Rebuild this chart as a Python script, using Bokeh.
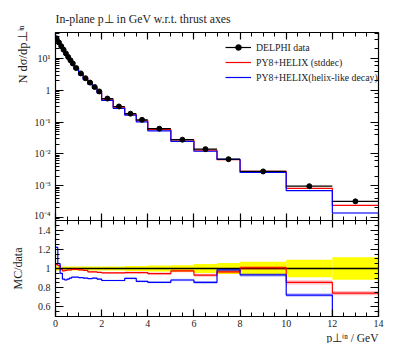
import numpy as np
from bokeh.plotting import figure
from bokeh.models import (ColumnDataSource, Range1d, LinearAxis, LogAxis, LogTicker,
                          SingleIntervalTicker, CustomJSTickFormatter, Legend, LegendItem, Title)
from bokeh.layouts import column
from bokeh.embed import file_html
from bokeh.resources import INLINE

# ---------------- data ----------------
bin_edges = [0.0, 0.1, 0.2, 0.3, 0.4, 0.5, 0.6, 0.7, 0.8, 1.0, 1.2, 1.4, 1.6, 1.8, 2.0,
             2.5, 3.0, 3.5, 4.0, 5.0, 6.0, 7.0, 8.0, 10.0, 12.0, 14.0]
delphi = [42.0, 32.0, 24.5, 19.0, 14.5, 11.2, 8.8, 7.0, 5.0, 3.4, 2.4, 1.75, 1.27, 0.92,
          0.55, 0.31, 0.184, 0.118, 0.062, 0.028, 0.0141, 0.0068, 0.0028, 0.00096, 0.00032]
delphi_relerr = [0.02, 0.02, 0.02, 0.02, 0.02, 0.02, 0.02, 0.02, 0.02, 0.02, 0.02, 0.02,
                 0.02, 0.02, 0.022, 0.022, 0.025, 0.025, 0.03, 0.035, 0.046, 0.058,
                 0.07, 0.092, 0.118]
ratio_stddec = [1.04, 1.03, 0.99, 0.975, 0.98, 0.985, 0.985, 0.99, 0.99, 0.985, 0.98,
                0.965, 0.965, 0.96, 0.955, 0.955, 0.958, 0.958, 0.947, 0.975, 0.93,
                0.965, 1.007, 0.856, 0.744]
ratio_helix = [1.22, 1.05, 0.95, 0.89, 0.88, 0.89, 0.9, 0.91, 0.91, 0.905, 0.9, 0.895,
               0.9, 0.89, 0.875, 0.875, 0.898, 0.866, 0.856, 0.88, 0.856, 0.986, 0.933,
               0.723, 0.43]
mc_relerr = [0.005, 0.005, 0.005, 0.005, 0.005, 0.005, 0.005, 0.005, 0.005, 0.005, 0.006,
             0.006, 0.007, 0.007, 0.008, 0.009, 0.01, 0.011, 0.012, 0.014, 0.016, 0.018,
             0.02, 0.025, 0.03]
x_tick_labels = ["0", "2", "4", "6", "8", "10", "12", "14"]

FONT = "Liberation Serif"
RED = "#ff0000"
BLUE = "#0000ff"
TXT = "#222222"

lo = np.array(bin_edges[:-1])
hi = np.array(bin_edges[1:])
mid = (lo + hi) / 2
d = np.array(delphi)
de = np.array(delphi_relerr)
rs = np.array(ratio_stddec)
rh = np.array(ratio_helix)
me = np.array(mc_relerr)
mc_s = d * rs
mc_h = d * rh
edges = np.array(bin_edges)


def step_y(v):
    return np.append(v, v[-1])


src = ColumnDataSource(dict(lo=lo, hi=hi, mid=mid, d=d, dlo=d * (1 - de), dhi=d * (1 + de),
                            s=mc_s, slo=mc_s * (1 - me), shi=mc_s * (1 + me),
                            h=mc_h, hlo=mc_h * (1 - me), hhi=mc_h * (1 + me),
                            blo=1 - de, bhi=1 + de,
                            rslo=rs * (1 - me), rshi=rs * (1 + me),
                            rhlo=rh * (1 - me), rhhi=rh * (1 + me)))

log_fmt = CustomJSTickFormatter(code="""
const e = Math.round(Math.log10(tick));
if (e === 0) return "1";
const m = {"-":"\\u207b","0":"\\u2070","1":"\\u00b9","2":"\\u00b2","3":"\\u00b3","4":"\\u2074",
           "5":"\\u2075","6":"\\u2076","7":"\\u2077","8":"\\u2078","9":"\\u2079"};
return "10" + String(e).split("").map(c => m[c]).join("");
""")
empty_fmt = CustomJSTickFormatter(code="return '';")
ratio_fmt = CustomJSTickFormatter(code="return Number(tick.toFixed(1)).toString();")
x_fmt = CustomJSTickFormatter(args=dict(labels=x_tick_labels),
                              code="const i = Math.round(tick/2); return (i>=0 && i<labels.length) ? labels[i] : '';")


def style_axis(ax, labels=True):
    ax.axis_line_width = 1.2
    ax.axis_line_color = "black"
    ax.major_tick_in = 7
    ax.major_tick_out = 0
    ax.minor_tick_in = 4
    ax.minor_tick_out = 0
    ax.major_tick_line_width = 1.2
    ax.minor_tick_line_width = 1
    ax.major_tick_line_color = "black"
    ax.minor_tick_line_color = "black"
    ax.major_label_text_font = FONT
    ax.major_label_text_font_size = "10px" if labels else "0px"
    ax.major_label_text_color = TXT
    ax.axis_label_text_font = FONT
    ax.axis_label_text_font_size = "12px"
    ax.axis_label_text_font_style = "normal"
    ax.axis_label_text_color = TXT
    if not labels:
        ax.major_label_standoff = 0
        ax.formatter = empty_fmt


xr = Range1d(0, 14)

# ---------------- top panel ----------------
top = figure(width=396, height=220, y_axis_type="log", x_range=xr,
             y_range=Range1d(8e-5, 66), output_backend="svg", toolbar_location=None,
             min_border_left=55, min_border_right=18, min_border_top=32, min_border_bottom=0)
top.title.text = "In-plane p\u22a5 in GeV w.r.t. thrust axes"
top.title.text_font = FONT
top.title.text_font_size = "11.8px"
top.title.text_font_style = "normal"
top.title.text_color = TXT
top.title.offset = 0
top.title.standoff = 13
top.xgrid.visible = False
top.ygrid.visible = False
top.outline_line_color = None

top.quad(left="lo", right="hi", bottom="slo", top="shi", source=src, fill_color=RED,
         fill_alpha=0.25, line_color=None)
top.quad(left="lo", right="hi", bottom="hlo", top="hhi", source=src, fill_color=BLUE,
         fill_alpha=0.25, line_color=None)
r_s = top.step(edges, step_y(mc_s), mode="after", line_color=RED, line_width=1.2)
r_h = top.step(edges, step_y(mc_h), mode="after", line_color=BLUE, line_width=1.2)
r_dh = top.segment(x0="lo", x1="hi", y0="d", y1="d", source=src, line_color="black", line_width=1.2)
top.segment(x0="mid", x1="mid", y0="dlo", y1="dhi", source=src, line_color="black", line_width=1.2)
r_dm = top.scatter("mid", "d", source=src, size=5, color="black")

xt = SingleIntervalTicker(interval=2, num_minor_ticks=4)
style_axis(top.xaxis[0], labels=False)
top.xaxis[0].ticker = xt
yl = top.yaxis[0]
style_axis(yl)
yl.major_tick_in = 8
yl.formatter = log_fmt
ytitle = Title(text="N d\u03c3/dp\u22a5\u2071\u207f", align="right", text_font=FONT,
               text_font_size="12.5px", text_font_style="normal", text_color=TXT,
               offset=-7, standoff=4)
top.add_layout(ytitle, "left")
ax_top = LinearAxis(ticker=xt)
style_axis(ax_top, labels=False)
top.add_layout(ax_top, "above")
ax_right = LogAxis(ticker=LogTicker())
style_axis(ax_right, labels=False)
ax_right.major_tick_in = 8
top.add_layout(ax_right, "right")

legend = Legend(items=[LegendItem(label="DELPHI data", renderers=[r_dh, r_dm]),
                       LegendItem(label="PY8+HELIX (stddec)", renderers=[r_s]),
                       LegendItem(label="PY8+HELIX(helix-like decay)", renderers=[r_h])],
                location=(170, 136))
legend.border_line_color = None
legend.background_fill_alpha = 0
legend.label_text_font = FONT
legend.label_text_font_size = "9.8px"
legend.label_text_color = TXT
legend.glyph_width = 26
legend.glyph_height = 14
legend.label_height = 14
legend.label_standoff = 5
legend.spacing = 1
legend.padding = 0
legend.margin = 0
top.add_layout(legend)

# ---------------- ratio panel ----------------
bot = figure(width=396, height=123, x_range=xr, y_range=Range1d(0.5, 1.5),
             output_backend="svg", toolbar_location=None,
             min_border_left=55, min_border_right=18, min_border_top=0, min_border_bottom=27)
bot.xgrid.visible = False
bot.ygrid.visible = False
bot.outline_line_color = None

bot.quad(left="lo", right="hi", bottom="blo", top="bhi", source=src, fill_color="#ffff00",
         line_color=None)
bot.quad(left="lo", right="hi", bottom="rslo", top="rshi", source=src, fill_color=RED,
         fill_alpha=0.25, line_color=None)
bot.quad(left="lo", right="hi", bottom="rhlo", top="rhhi", source=src, fill_color=BLUE,
         fill_alpha=0.25, line_color=None)
bot.step(edges, step_y(d / d), mode="after", line_color="black", line_width=1.4)
bot.step(edges, step_y(rs), mode="after", line_color=RED, line_width=1.2)
bot.step(edges, step_y(rh), mode="after", line_color=BLUE, line_width=1.2)

bx = bot.xaxis[0]
style_axis(bx)
bx.ticker = xt
bx.formatter = x_fmt
bx.major_label_standoff = 3
xtitle = Title(text="p\u22a5\u2071\u207f / GeV", align="right", text_font=FONT,
               text_font_size="11.5px", text_font_style="normal", text_color=TXT,
               offset=0, standoff=0)
bot.add_layout(xtitle, "below")
yt = SingleIntervalTicker(interval=0.2, num_minor_ticks=4)
by = bot.yaxis[0]
style_axis(by)
by.ticker = yt
by.formatter = ratio_fmt
by.major_tick_in = 8
by.axis_label = "MC/data"
by.axis_label_standoff = 10
b_top = LinearAxis(ticker=xt)
style_axis(b_top, labels=False)
bot.add_layout(b_top, "above")
b_right = LinearAxis(ticker=yt)
style_axis(b_right, labels=False)
b_right.major_tick_in = 8
bot.add_layout(b_right, "right")

layout = column(top, bot, spacing=0)
open("out.html", "w").write(file_html(layout, INLINE))
